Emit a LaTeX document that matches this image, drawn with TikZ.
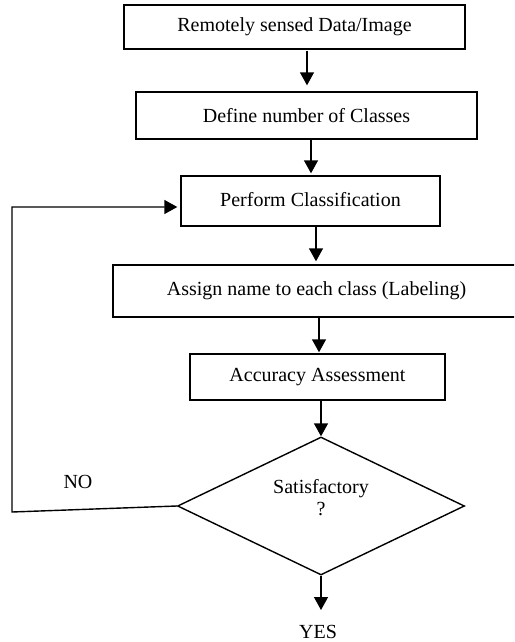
\documentclass[tikz,border=0pt]{standalone}
\usepackage{fontspec}
\setmainfont{Liberation Serif}
\usetikzlibrary{arrows.meta,shapes.geometric}
\begin{document}
\begin{tikzpicture}[x=1pt,y=-1pt,
  every node/.style={font=\fontsize{20}{24}\selectfont},
  box/.style={draw,line width=1.4pt,rectangle,inner sep=0pt},
  dec/.style={draw,line width=1.4pt,diamond,inner sep=0pt,minimum width=287pt,minimum height=138pt},
  arr/.style={line width=1.4pt,-{Triangle[length=13pt,width=14pt]}},
  lbl/.style={inner sep=0pt,align=center}]
\clip (0,0) rectangle (514,642);
\fill[white] (0,0) rectangle (514,642);
\node[box,minimum width=341pt,minimum height=44pt] (b1) at (294.5,27) {Remotely sensed Data/Image};
\node[box,minimum width=341pt,minimum height=47pt] (b2) at (306.5,115.5) {Define number of Classes};
\node[box,minimum width=259pt,minimum height=50pt] (b3) at (310.5,201) {\raisebox{3pt}{Perform Classification}};
\node[box,minimum width=407pt,minimum height=52pt] (b4) at (316.5,291) {Assign name to each class (Labeling)};
\node[box,minimum width=255pt,minimum height=46pt] (b5) at (317.5,377) {Accuracy Assessment};
\node[dec] (d) at (321,506) {};
\node[lbl] (dt) at (321,498) {Satisfactory\\[-2pt]?};
\node[lbl] (no) at (78,482) {NO};
\node[lbl] (yes) at (318,632) {YES};
\coordinate (x1) at (307,0);
\coordinate (x2) at (311,0);
\coordinate (x3) at (316,0);
\coordinate (x4) at (319,0);
\coordinate (x5) at (321,0);
\coordinate (lb) at (12,512);
\coordinate (lt) at (12,207);
\coordinate (yt) at (321,610);
\draw[arr,shorten <=1.5pt,shorten >=6pt] (b1.south -| x1) -- (b2.north -| x1);
\draw[arr,shorten >=2pt] (b2.south -| x2) -- (b3.north -| x2);
\draw[arr,shorten >=3pt] (b3.south -| x3) -- (b4.north -| x3);
\draw[arr,shorten >=1pt] (b4.south -| x4) -- (b5.north -| x4);
\draw[arr] (b5.south -| x5) -- (d.north);
\draw[arr] (d.south) -- (yt);
\draw[arr,shorten >=3pt] (d.west) -- (lb) -- (lt) -- (lt -| b3.west);
\end{tikzpicture}
\end{document}
